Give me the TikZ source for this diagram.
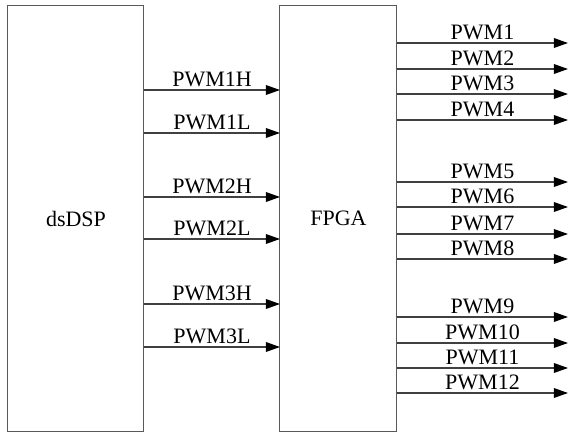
\documentclass[tikz,border=0pt]{standalone}
\usepackage{fontspec}
\setmainfont{Liberation Serif}
\usetikzlibrary{arrows.meta,positioning}

\begin{document}
\begin{tikzpicture}[x=0.5pt,y=-0.5pt,
    blk/.style={draw=black!65,line width=0.5pt,outer sep=0pt,inner sep=0pt},
    sig/.style={draw=black!75,line width=0.6pt,-{Triangle[length=7pt,width=4.8pt,color=black,fill=black]}},
    lbl/.style={above,inner sep=1.5pt,font=\fontsize{11}{13}\selectfont}]
        \useasboundingbox (0,0) rectangle (570,433);
        % the two blocks
        \node[blk,minimum width=68pt,minimum height=213pt,font=\fontsize{11}{13}\selectfont] (dsp) at (76,218.5) {dsDSP};
        \node[blk,minimum width=58.5pt,minimum height=213pt,font=\fontsize{11}{13}\selectfont] (fpga) at (338.5,218.5) {FPGA};
        \coordinate (out) at (568,0);
        % dsDSP -> FPGA
        \foreach \y/\t in {90/PWM1H,133/PWM1L,197/PWM2H,239/PWM2L,304/PWM3H,347/PWM3L}
            \draw[sig] (dsp.east |- 0,\y) -- node[lbl]{\t} (fpga.west |- 0,\y);
        % FPGA outputs
        \foreach \y/\t in {43/PWM1,69/PWM2,94/PWM3,120/PWM4,182/PWM5,207/PWM6,234/PWM7,259/PWM8,317/PWM9,343/PWM10,368/PWM11,393/PWM12}
            \draw[sig] (fpga.east |- 0,\y) -- node[lbl]{\t} (out |- 0,\y);
      \end{tikzpicture}
\end{document}
